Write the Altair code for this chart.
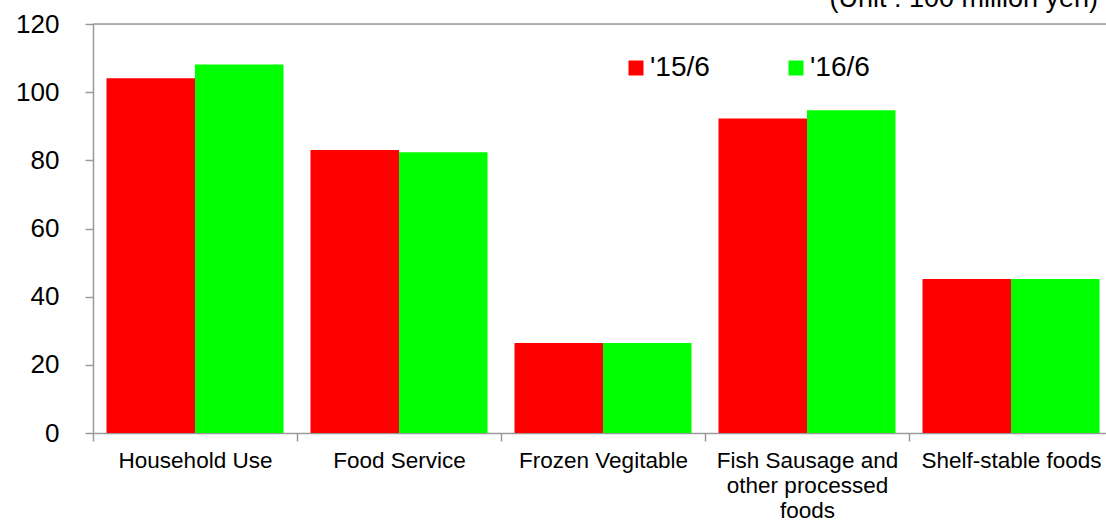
import altair as alt
import pandas as pd
import json

categories = ["Household Use", "Food Service", "Frozen Vegitable",
              "Fish Sausage and other processed foods", "Shelf-stable foods"]
category_lines = {
    "Fish Sausage and other processed foods": ["Fish Sausage and", "other processed", "foods"],
}
series = ["'15/6", "'16/6"]
values_15 = [104.1, 83.0, 26.4, 92.3, 45.2]
values_16 = [108.1, 82.4, 26.4, 94.7, 45.2]
colors = ["#FF0000", "#00FF00"]
y_ticks = [0, 20, 40, 60, 80, 100, 120]
unit_label = "(Unit : 100 million yen)"

rows = []
for c, a, b in zip(categories, values_15, values_16):
    rows.append({"category": c, "period": series[0], "value": a})
    rows.append({"category": c, "period": series[1], "value": b})
df = pd.DataFrame(rows)

expr = "datum.label"
for k, v in category_lines.items():
    expr = f"datum.label == {json.dumps(k)} ? {json.dumps(v)} : {expr}"

FONT = "Liberation Sans"
AX = "#9a9a9a"
W, H = 1013, 409

bars = alt.Chart(df).mark_bar().encode(
    x=alt.X("category:N", sort=categories,
            scale=alt.Scale(range=[0, 1020], paddingInner=0, paddingOuter=0),
            axis=alt.Axis(title=None, labelAngle=0, labelFontSize=22.5, labelFont=FONT,
                          labelColor="#000000", tickBand="extent", tickSize=8,
                          tickColor=AX, domainColor=AX, domainWidth=1.5, tickWidth=1.5,
                          labelPadding=8, labelLimit=400, labelExpr=expr,
                          labelLineHeight=25, labelBaseline="top")),
    xOffset=alt.XOffset("period:N", sort=series,
                        scale=alt.Scale(paddingInner=0, paddingOuter=0.1525)),
    y=alt.Y("value:Q", scale=alt.Scale(domain=[0, 120], nice=False),
            axis=alt.Axis(title=None, values=y_ticks, grid=False, labelFontSize=26,
                          labelFont=FONT, labelColor="#000000", tickSize=8,
                          labelPadding=26, tickColor=AX, domainColor=AX,
                          domainWidth=1.5, tickWidth=1.5)),
    color=alt.Color("period:N", sort=series,
                    scale=alt.Scale(domain=series, range=colors),
                    legend=alt.Legend(title=None, orient="none", legendX=529, legendY=30,
                                      direction="horizontal", symbolType="square",
                                      symbolSize=225, symbolStrokeWidth=0,
                                      labelFontSize=28, labelFont=FONT, labelColor="#000000",
                                      labelOffset=0, columnPadding=72, padding=0)),
)

top_rule = alt.Chart(pd.DataFrame({"v": [y_ticks[-1]]})).mark_rule(
    color=AX, strokeWidth=1.5).encode(y="v:Q")

unit_text = alt.Chart(pd.DataFrame({"t": [unit_label]})).mark_text(
    align="right", baseline="alphabetic", fontSize=27, font=FONT, color="#000000"
).encode(text="t:N", x=alt.value(1005), y=alt.value(-17))

chart = alt.layer(bars, top_rule, unit_text).properties(
    width=W, height=H,
    autosize=alt.AutoSizeParams(type="none"),
    padding={"left": 93, "top": 24, "right": 0, "bottom": 90},
).configure_view(stroke=None).configure(font=FONT)

chart.save("out.html", embed_options={"renderer": "svg", "actions": False})
